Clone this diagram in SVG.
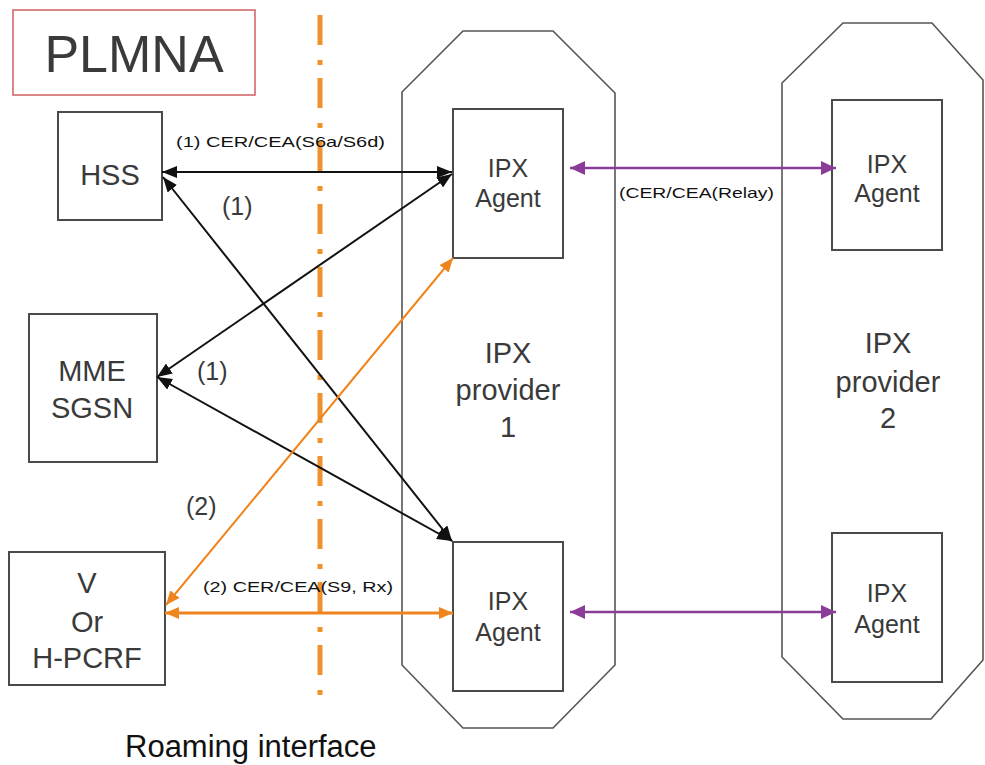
<svg xmlns="http://www.w3.org/2000/svg" width="985" height="765" viewBox="0 0 985 765">
  <style>
    .box { fill: #ffffff; stroke: #4a4a4a; stroke-width: 2; }
    .oct { fill: none; stroke: #555555; stroke-width: 1.6; }
    .t { font-family: "Liberation Sans", Arial, sans-serif; fill: #3a3a3a; text-anchor: middle; }
    .big { font-size: 29px; }
    .mid { font-size: 25px; }
    .lbl { font-family: "Liberation Sans", Arial, sans-serif; fill: #111111; font-size: 15px; }
    .num { font-family: "Liberation Sans", Arial, sans-serif; fill: #3a3a3a; font-size: 25px; }
    .blk { stroke: #111111; stroke-width: 2; fill: none; marker-start: url(#ah-black); marker-end: url(#ah-black); }
    .org { stroke: #f0841c; fill: none; marker-start: url(#ah-orange); marker-end: url(#ah-orange); }
    .pur { stroke: #8a3c98; stroke-width: 2.5; fill: none; marker-start: url(#ah-purple); marker-end: url(#ah-purple); }
  </style>
  <defs>
    <marker id="ah-black" markerUnits="userSpaceOnUse" markerWidth="15" markerHeight="12" refX="15" refY="6" orient="auto-start-reverse">
      <path d="M0,0 L15,6 L0,12 z" fill="#111111"/>
    </marker>
    <marker id="ah-orange" markerUnits="userSpaceOnUse" markerWidth="14" markerHeight="12" refX="14" refY="6" orient="auto-start-reverse">
      <path d="M0,0 L14,6 L0,12 z" fill="#f0841c"/>
    </marker>
    <marker id="ah-purple" markerUnits="userSpaceOnUse" markerWidth="15" markerHeight="14" refX="15" refY="7" orient="auto-start-reverse">
      <path d="M0,0 L15,7 L0,14 z" fill="#8a3c98"/>
    </marker>
  </defs>

  <rect width="985" height="765" fill="#ffffff"/>

  <!-- PLMN A title -->
  <g id="plmna">
    <rect x="13" y="10" width="242" height="85" fill="#ffffff" stroke="#d46a6a" stroke-width="1.6"/>
    <text class="t" x="134" y="72" font-size="52" fill="#111111">PLMNA</text>
  </g>

  <!-- IPX provider envelopes -->
  <g id="provider1">
    <polygon class="oct" points="463,31 553,31 615,93 615,665 553,728 463,728 402,665 402,92"/>
    <text class="t big" x="508" y="363">IPX</text>
    <text class="t big" x="508" y="400">provider</text>
    <text class="t big" x="508" y="437">1</text>
  </g>
  <g id="provider2">
    <polygon class="oct" points="843,23 932,23 983,80 983,660 931,719 843,719 782,657 782,83"/>
    <text class="t big" x="888" y="353">IPX</text>
    <text class="t big" x="888" y="392">provider</text>
    <text class="t big" x="888" y="428">2</text>
  </g>

  <!-- Home network nodes -->
  <g id="hss">
    <rect class="box" x="58" y="112" width="104" height="108"/>
    <text class="t big" x="110" y="185">HSS</text>
  </g>
  <g id="mme-sgsn">
    <rect class="box" x="29" y="314" width="128" height="148"/>
    <text class="t big" x="92" y="381">MME</text>
    <text class="t big" x="92" y="418">SGSN</text>
  </g>
  <g id="pcrf">
    <rect class="box" x="9" y="552" width="156" height="133"/>
    <text class="t big" x="87" y="593">V</text>
    <text class="t big" x="87" y="632">Or</text>
    <text class="t big" x="87" y="668">H-PCRF</text>
  </g>

  <!-- IPX agents -->
  <g id="agent1-top">
    <rect class="box" x="453" y="109" width="110" height="149"/>
    <text class="t mid" x="508" y="177">IPX</text>
    <text class="t mid" x="508" y="207">Agent</text>
  </g>
  <g id="agent1-bottom">
    <rect class="box" x="453" y="542" width="110" height="149"/>
    <text class="t mid" x="508" y="610">IPX</text>
    <text class="t mid" x="508" y="641">Agent</text>
  </g>
  <g id="agent2-top">
    <rect class="box" x="832" y="100" width="110" height="150"/>
    <text class="t mid" x="887" y="173">IPX</text>
    <text class="t mid" x="887" y="202">Agent</text>
  </g>
  <g id="agent2-bottom">
    <rect class="box" x="832" y="533" width="110" height="149"/>
    <text class="t mid" x="887" y="602">IPX</text>
    <text class="t mid" x="887" y="633">Agent</text>
  </g>

  <!-- Roaming interface boundary -->
  <g id="roaming-interface">
    <line x1="320" y1="15" x2="320" y2="700" stroke="#f0922c" stroke-width="5" stroke-dasharray="30 15 5 13"/>
    <text x="125" y="757" font-family="Liberation Sans, Arial, sans-serif" font-size="31" fill="#111111">Roaming interface</text>
  </g>

  <!-- Connectors -->
  <g id="connectors">
    <line class="blk" x1="162" y1="172" x2="452" y2="172"/>
    <line class="blk" x1="163" y1="177" x2="452" y2="541"/>
    <line class="blk" x1="157" y1="377" x2="452" y2="174"/>
    <line class="blk" x1="157" y1="377" x2="452" y2="541"/>
    <line class="org" stroke-width="2" x1="166" y1="605" x2="453" y2="258"/>
    <line class="org" stroke-width="3" x1="165" y1="613" x2="453" y2="613"/>
    <line class="pur" x1="570" y1="168" x2="836" y2="168"/>
    <line class="pur" x1="570" y1="612" x2="836" y2="612"/>

    <text class="lbl" x="176" y="147" textLength="209" lengthAdjust="spacingAndGlyphs">(1) CER/CEA(S6a/S6d)</text>
    <text class="lbl" x="203" y="592" textLength="190" lengthAdjust="spacingAndGlyphs">(2) CER/CEA(S9, Rx)</text>
    <text class="lbl" x="619" y="198" textLength="155" lengthAdjust="spacingAndGlyphs">(CER/CEA(Relay)</text>
    <text class="num" x="222" y="215">(1)</text>
    <text class="num" x="197" y="380">(1)</text>
    <text class="num" x="186" y="515">(2)</text>
  </g>
</svg>
